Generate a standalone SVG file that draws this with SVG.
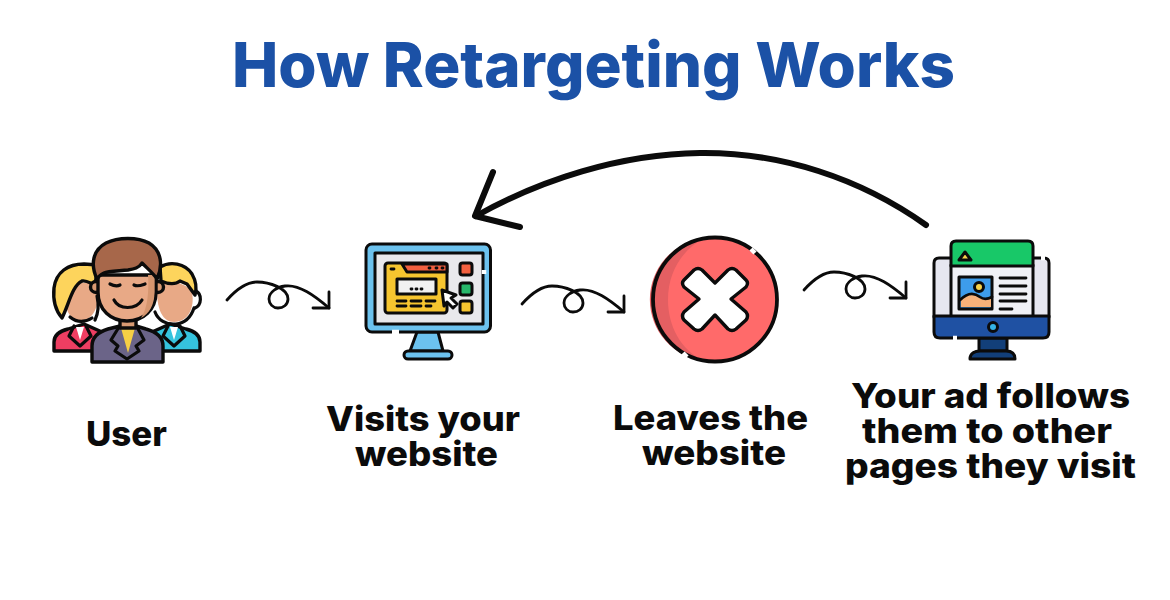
<svg xmlns="http://www.w3.org/2000/svg" width="1170" height="600" viewBox="0 0 1170 600">
<style>
  .ol { stroke: #0b0b0b; stroke-width: 3.4; stroke-linejoin: round; stroke-linecap: round; }
  .ln { fill: none; stroke: #0b0b0b; stroke-width: 3.2; stroke-linecap: round; stroke-linejoin: round; }
  #node-visit .ol, #node-ad .ol { stroke-width: 3; }
  #node-visit .ln, #node-ad .ln { stroke-width: 2.8; }
  .gap { fill: none; stroke: #ffffff; stroke-width: 4.5; }
  .lbl { font-family: Inter, "Liberation Sans", sans-serif; font-weight: 800; font-size: 34px; fill: #0b0b0b; }
  .title { font-family: Inter, "Liberation Sans", sans-serif; font-weight: 800; font-size: 62px; fill: #1b51a6; }
  .sq { fill: none; stroke: #0b0b0b; stroke-width: 2.8; stroke-linecap: round; stroke-linejoin: round; }
</style>
<defs>
  <!-- looped connector, drawn from its start point -->
  <g id="squiggle">
    <path class="sq" d="M0 0 C8 -9 18 -18 30 -18 C42 -18 61 -12 61 -1 C61 5 56 8 51 8 C46 8 42 4 42 -1 C42 -8 50 -13 58 -14 C72 -16 88 -4 102 8"/>
    <path class="sq" d="M102 -8 L102 8 L86 8"/>
  </g>
</defs>
<rect width="1170" height="600" fill="#ffffff"/>

<text class="title" x="232" y="87" textLength="723" lengthAdjust="spacingAndGlyphs">How Retargeting Works</text>

<g id="connectors">
  <use href="#squiggle" x="227" y="300"/>
  <use href="#squiggle" x="522" y="304"/>
  <use href="#squiggle" x="804" y="290"/>
  <path d="M926 225 C860 178 780 152 700 153 C620 154 540 180 476 216" fill="none" stroke="#0b0b0b" stroke-width="6" stroke-linecap="round"/>
  <path d="M493 172 L475 216 L520 227" fill="none" stroke="#0b0b0b" stroke-width="6" stroke-linecap="round" stroke-linejoin="round"/>
</g>

<g id="node-user">
  <!-- left colleague -->
  <path class="ol" fill="#ef3e62" d="M54 351 V342 C54 335 60 331 68 329 L84 324 L102 332 V351 Z"/>
  <path fill="#fff" d="M76 327 L80 340 L84 327 Z"/>
  <path class="ln" d="M74 326 L69 336 L80 346 L91 336 L86 326"/>
  <path fill="#e8a986" d="M66 292 C68 282 78 279 84 283 C90 281 98 285 98 296 C98 311 90 321 80 321 C70 321 63 307 66 292 Z"/>
  <path class="ol" fill="#fdd45c" d="M62 318 C55 310 53 298 54 288 C56 272 68 264 84 264 L98 265 L95 285 C90 283 86 280 82 281 C72 286 69 304 62 318 Z"/>
  <path class="ln" d="M97 296 C100 310 96 318 95 320 M70 317 C76 322 84 323 92 318"/>
  <!-- right colleague -->
  <path class="ol" fill="#35c3dd" d="M200 351 V342 C200 335 194 331 186 329 L170 324 L152 332 V351 Z"/>
  <path fill="#fff" d="M170 327 L174 340 L178 327 Z"/>
  <path class="ln" d="M168 326 L163 336 L174 346 L185 336 L180 326"/>
  <path fill="#e8a986" d="M157 285 C170 280 185 282 192 292 C195 308 188 322 174 322 C163 322 156 310 157 285 Z"/>
  <path class="ol" fill="#fdd45c" d="M160 267 C170 261 185 263 192 274 C196 281 197 288 195 295 L187 284 L180 281 C175 285 168 284 161 281 Z"/>
  <path class="ln" d="M196 291 C202 294 202 305 195 308"/>
  <path class="ln" d="M194 308 C191 317 186 323 176 324 C166 325 158 320 155 312"/>
  <!-- centre figure -->
  <path class="ol" fill="#6b6488" d="M92 362 V346 C92 337 98 332 108 329 L120 326 H136 L146 329 C157 332 163 337 163 346 V362 Z"/>
  <path fill="#f6cf45" d="M121 328 H135 L128 353 Z"/>
  <path class="ln" d="M119 327 L111 340 L118 346 L115 351 L127 359 L139 351 L136 346 L144 340 L137 327"/>
  <path class="ol" fill="#d79a72" d="M120 316 H136 V328 H120 Z"/>
  <circle cx="96" cy="287" r="5.500" class="ol" fill="#d99a72"/>
  <circle cx="158" cy="287" r="5.500" class="ol" fill="#d99a72"/>
  <path class="ol" fill="#e8a986" d="M98 275 H156 V292 C156 310 143 321 127 321 C111 321 98 310 98 292 Z"/>
  <path fill="#d6966f" d="M148 275 H154.500 V292 C154.500 305 149 314 141 318 C148 308 149 290 148 275 Z"/>
  <path class="ol" fill="#a7674a" d="M97 279 C90 264 93 250 106 243 C118 237 138 237 149 243 C162 251 163 266 157 279 C154 274 149 270 142 263 C139 268 134 269 128 270 C118 271 108 271 104 273 C100 275 98 277 97 279 Z"/>
  <path class="ln" d="M110 284 C112 285 116 287 120 285"/>
  <path class="ln" d="M134 285 C138 287 142 285 145 284"/>
  <path class="ln" d="M114 300 C119 310 136 310 142 300"/>
</g>

<g id="node-visit">
  <path class="ol" fill="#6cc2ee" d="M417 332 H438 L443 351 H410 Z"/>
  <rect class="ol" x="404" y="351" width="48" height="8" rx="4" fill="#6cc2ee"/>
  <rect class="ol" x="366" y="244" width="124.500" height="88" rx="6" fill="#6cc2ee"/>
  <rect class="ol" x="375" y="253" width="108" height="71" fill="#e9e9ec"/>
  <rect class="ol" x="385" y="263" width="62" height="50" rx="3" fill="#f6c52f"/>
  <path class="ol" fill="#f2603f" d="M402 264 H447 V272 H407 Z"/>
  <path class="ln" d="M391 269 H394 M429 268 H430 M436 268 H437 M442 268 H443"/>
  <rect class="ol" x="397" y="279" width="39" height="15" fill="#f1f1f1"/>
  <path class="ln" d="M411 289 H412 M416 289 H417 M421 289 H422"/>
  <path class="ln" d="M397 301 H406 M411 301 H421 M426 301 H435 M397 306 H406 M411 306 H421 M426 306 H431"/>
  <path class="ol" fill="#fff" d="M442 290 L456 295 L451 298 L457 304 L453 308 L447 302 L444 306 Z"/>
  <rect class="ol" x="460" y="263" width="12" height="12" rx="2.500" fill="#f2603f"/>
  <rect class="ol" x="460" y="283" width="12" height="12" rx="2.500" fill="#27b86b"/>
  <rect class="ol" x="460" y="301" width="12" height="12" rx="2.500" fill="#f6c52f"/>
  <path class="gap" d="M392 332 H399 M484 270 V274"/>
</g>

<g id="node-leave">
  <circle cx="715" cy="299.500" r="62" fill="#ff6a6a"/>
  <path d="M704 238 A62 62 0 0 0 704 361 C680 350 668 325 668 300 C668 272 682 250 704 238 Z" fill="#e45f62"/>
  <circle cx="715" cy="299.500" r="62" fill="none" stroke="#0b0b0b" stroke-width="3.8"/>
  <path class="gap" stroke-width="3" d="M751 249 L755 253 M683 353 L687 357"/>
  <path class="ol" fill="#fff" stroke-width="3.200" d="M715 283 L728 270 Q732 267 736 270 L746 280 Q749 283 746 287 L731 299 L746 312 Q749 316 746 320 L736 329 Q732 332 728 329 L715 315 L702 329 Q698 332 694 329 L684 320 Q681 316 684 312 L699 299 L684 287 Q681 283 684 280 L694 270 Q698 267 702 270 Z"/>
</g>

<g id="node-ad">
  <rect class="ol" x="979" y="338" width="28" height="13" fill="#123f79"/>
  <path class="ol" fill="#123f79" d="M970 359 C970 353 975 351 980 351 H1006 C1011 351 1015 353 1015 359 Z"/>
  <path class="ol" fill="#e6e7f0" d="M934 317 V263 Q934 258 939 258 H1044 Q1049 258 1049 263 V317 Z"/>
  <rect class="ol" x="951" y="265" width="82" height="52" fill="#f0f1f6"/>
  <path class="ol" fill="#1f51a3" d="M934 316 H1049 V332 Q1049 338 1043 338 H940 Q934 338 934 332 Z"/>
  <circle class="ol" cx="993" cy="327" r="4.500" fill="#35b3e6"/>
  <path class="ol" fill="#18c868" d="M951 266 V246 Q951 241 956 241 H1028 Q1033 241 1033 246 V266 Z"/>
  <path class="ol" fill="#f6d24a" d="M965 252 L971 260 H959 Z"/>
  <rect class="ol" x="959" y="277" width="33" height="32" fill="#3d9ceb"/>
  <path fill="#f7b27a" d="M961 300 C968 292 975 293 980 297 C984 300 988 299 991 297 V307 H961 Z"/>
  <path class="ln" d="M960 300 C968 292 975 293 980 297 C984 300 988 299 992 297"/>
  <circle class="ol" cx="979" cy="287" r="4.500" fill="#f6d24a"/>
  <path class="ln" d="M1000 278 H1026 M1000 286 H1026 M1000 294 H1026 M1000 301 H1026 M1000 309 H1012"/>
  <path class="gap" stroke-width="3" d="M1041 258 H1045 M953 338 H957"/>
</g>

<text class="lbl" x="86" y="446" textLength="81" lengthAdjust="spacingAndGlyphs">User</text>
<text class="lbl" x="326" y="431" textLength="194" lengthAdjust="spacingAndGlyphs">Visits your</text>
<text class="lbl" x="355" y="466" textLength="143" lengthAdjust="spacingAndGlyphs">website</text>
<text class="lbl" x="613" y="430" textLength="195" lengthAdjust="spacingAndGlyphs">Leaves the</text>
<text class="lbl" x="642" y="465" textLength="144" lengthAdjust="spacingAndGlyphs">website</text>
<text class="lbl" x="851" y="408" textLength="279" lengthAdjust="spacingAndGlyphs">Your ad follows</text>
<text class="lbl" x="862" y="443" textLength="250" lengthAdjust="spacingAndGlyphs">them to other</text>
<text class="lbl" x="845" y="478" textLength="291" lengthAdjust="spacingAndGlyphs">pages they visit</text>
</svg>
